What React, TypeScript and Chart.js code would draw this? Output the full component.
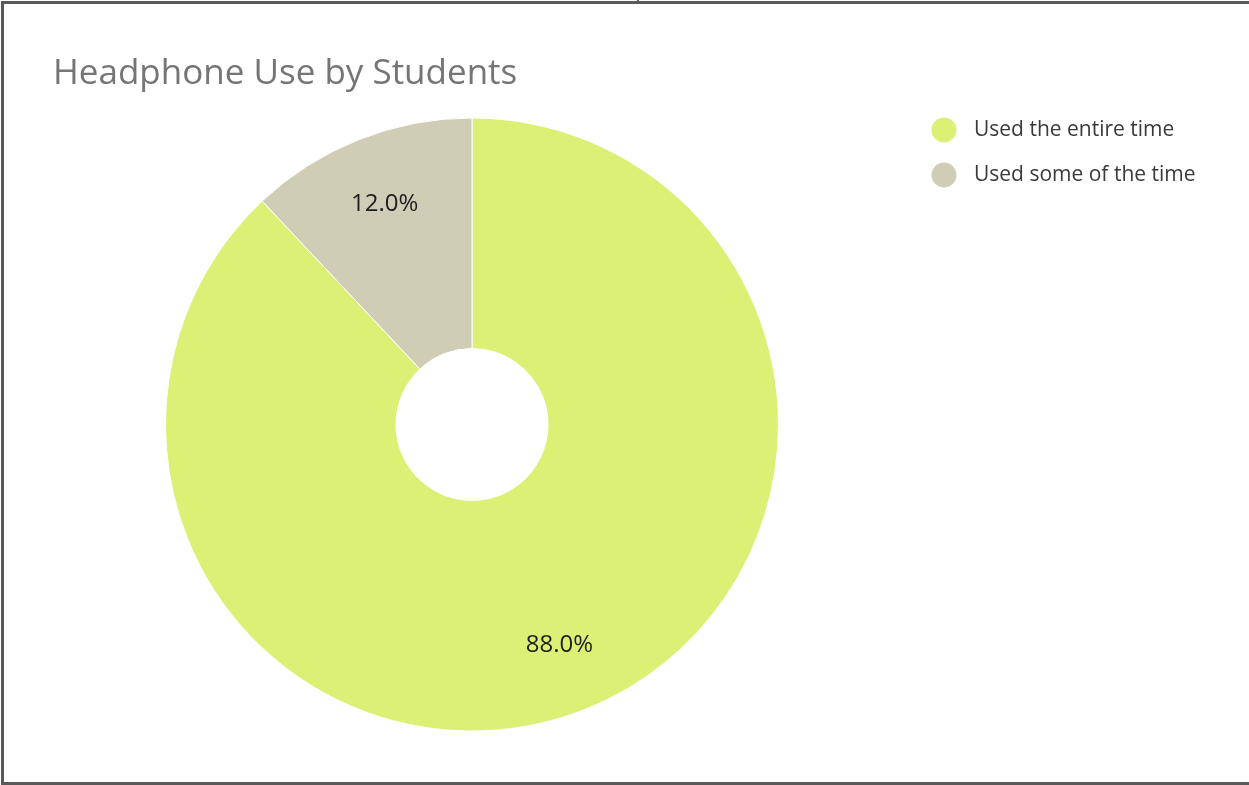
import React, { useEffect, useRef } from "react";
import { Chart, registerables } from "chart.js";

Chart.register(...registerables);

const TITLE = "Headphone Use by Students";
const categories = ["Used the entire time", "Used some of the time"];
const values = [88, 12];
const sliceColors = ["#dcf075", "#cfcdb5"];

const FONT = "'Open Sans', 'Noto Sans', sans-serif";

const decorPlugin = {
  id: "decor",
  afterDatasetsDraw(chart: any) {
    const ctx = chart.ctx;
    const meta = chart.getDatasetMeta(0);
    const data = chart.data.datasets[0].data as number[];
    const total = data.reduce((a, b) => a + b, 0);
    ctx.save();
    ctx.font = `24px ${FONT}`;
    ctx.fillStyle = "#1e1e1e";
    ctx.textAlign = "center";
    ctx.textBaseline = "middle";
    meta.data.forEach((arc: any, i: number) => {
      const p = arc.getProps(["x", "y", "startAngle", "endAngle", "innerRadius", "outerRadius"], true);
      const mid = (p.startAngle + p.endAngle) / 2;
      const r = p.innerRadius + (p.outerRadius - p.innerRadius) * 0.7;
      const x = p.x + Math.cos(mid) * r;
      const y = p.y + Math.sin(mid) * r;
      ctx.fillText(((data[i] / total) * 100).toFixed(1) + "%", x, y);
    });
    ctx.restore();
  },
  afterDraw(chart: any) {
    const ctx = chart.ctx;
    ctx.save();
    // title
    ctx.font = `35px ${FONT}`;
    ctx.fillStyle = "#757575";
    ctx.textAlign = "left";
    ctx.textBaseline = "alphabetic";
    ctx.fillText(TITLE, 53, 84);
    // legend
    const labels = chart.data.labels as string[];
    const colors = chart.data.datasets[0].backgroundColor as string[];
    ctx.font = `21px ${FONT}`;
    ctx.textBaseline = "middle";
    labels.forEach((lab, i) => {
      const cy = 130 + i * 45;
      ctx.beginPath();
      ctx.arc(944, cy, 12.5, 0, Math.PI * 2);
      ctx.fillStyle = colors[i];
      ctx.fill();
      ctx.fillStyle = "#3a3a3a";
      ctx.fillText(lab, 974, cy);
    });
    ctx.restore();
  },
};

export default function App() {
  const ref = useRef<HTMLCanvasElement>(null);
  useEffect(() => {
    document.body.style.margin = "0";
    const chart = new Chart(ref.current!, {
      type: "doughnut",
      data: {
        labels: categories,
        datasets: [
          {
            data: values,
            backgroundColor: sliceColors,
            borderColor: "#ffffff",
            borderWidth: 1,
          },
        ],
      },
      options: {
        responsive: false,
        animation: false,
        devicePixelRatio: 1,
        cutout: "24.8%",
        layout: { padding: { left: 165, top: 117, right: 470, bottom: 53 } },
        plugins: {
          legend: { display: false },
          title: { display: false },
          tooltip: { enabled: false },
        },
      },
      plugins: [decorPlugin],
    });
    return () => chart.destroy();
  }, []);
  return (
    <div style={{ position: "fixed", left: 0, top: 0, width: 1249, height: 785, background: "#fff" }}>
      <canvas ref={ref} width={1249} height={785} style={{ position: "absolute", left: 0, top: 0 }} />
      <div style={{ position: "absolute", left: 1, top: 1, width: 1248, height: 3, background: "#595959" }} />
      <div style={{ position: "absolute", left: 1, top: 1, width: 3, height: 784, background: "#595959" }} />
      <div style={{ position: "absolute", left: 1, top: 782, width: 1248, height: 3, background: "#595959" }} />
      <div style={{ position: "absolute", left: 637, top: 0, width: 2, height: 2, background: "#595959" }} />
    </div>
  );
}
